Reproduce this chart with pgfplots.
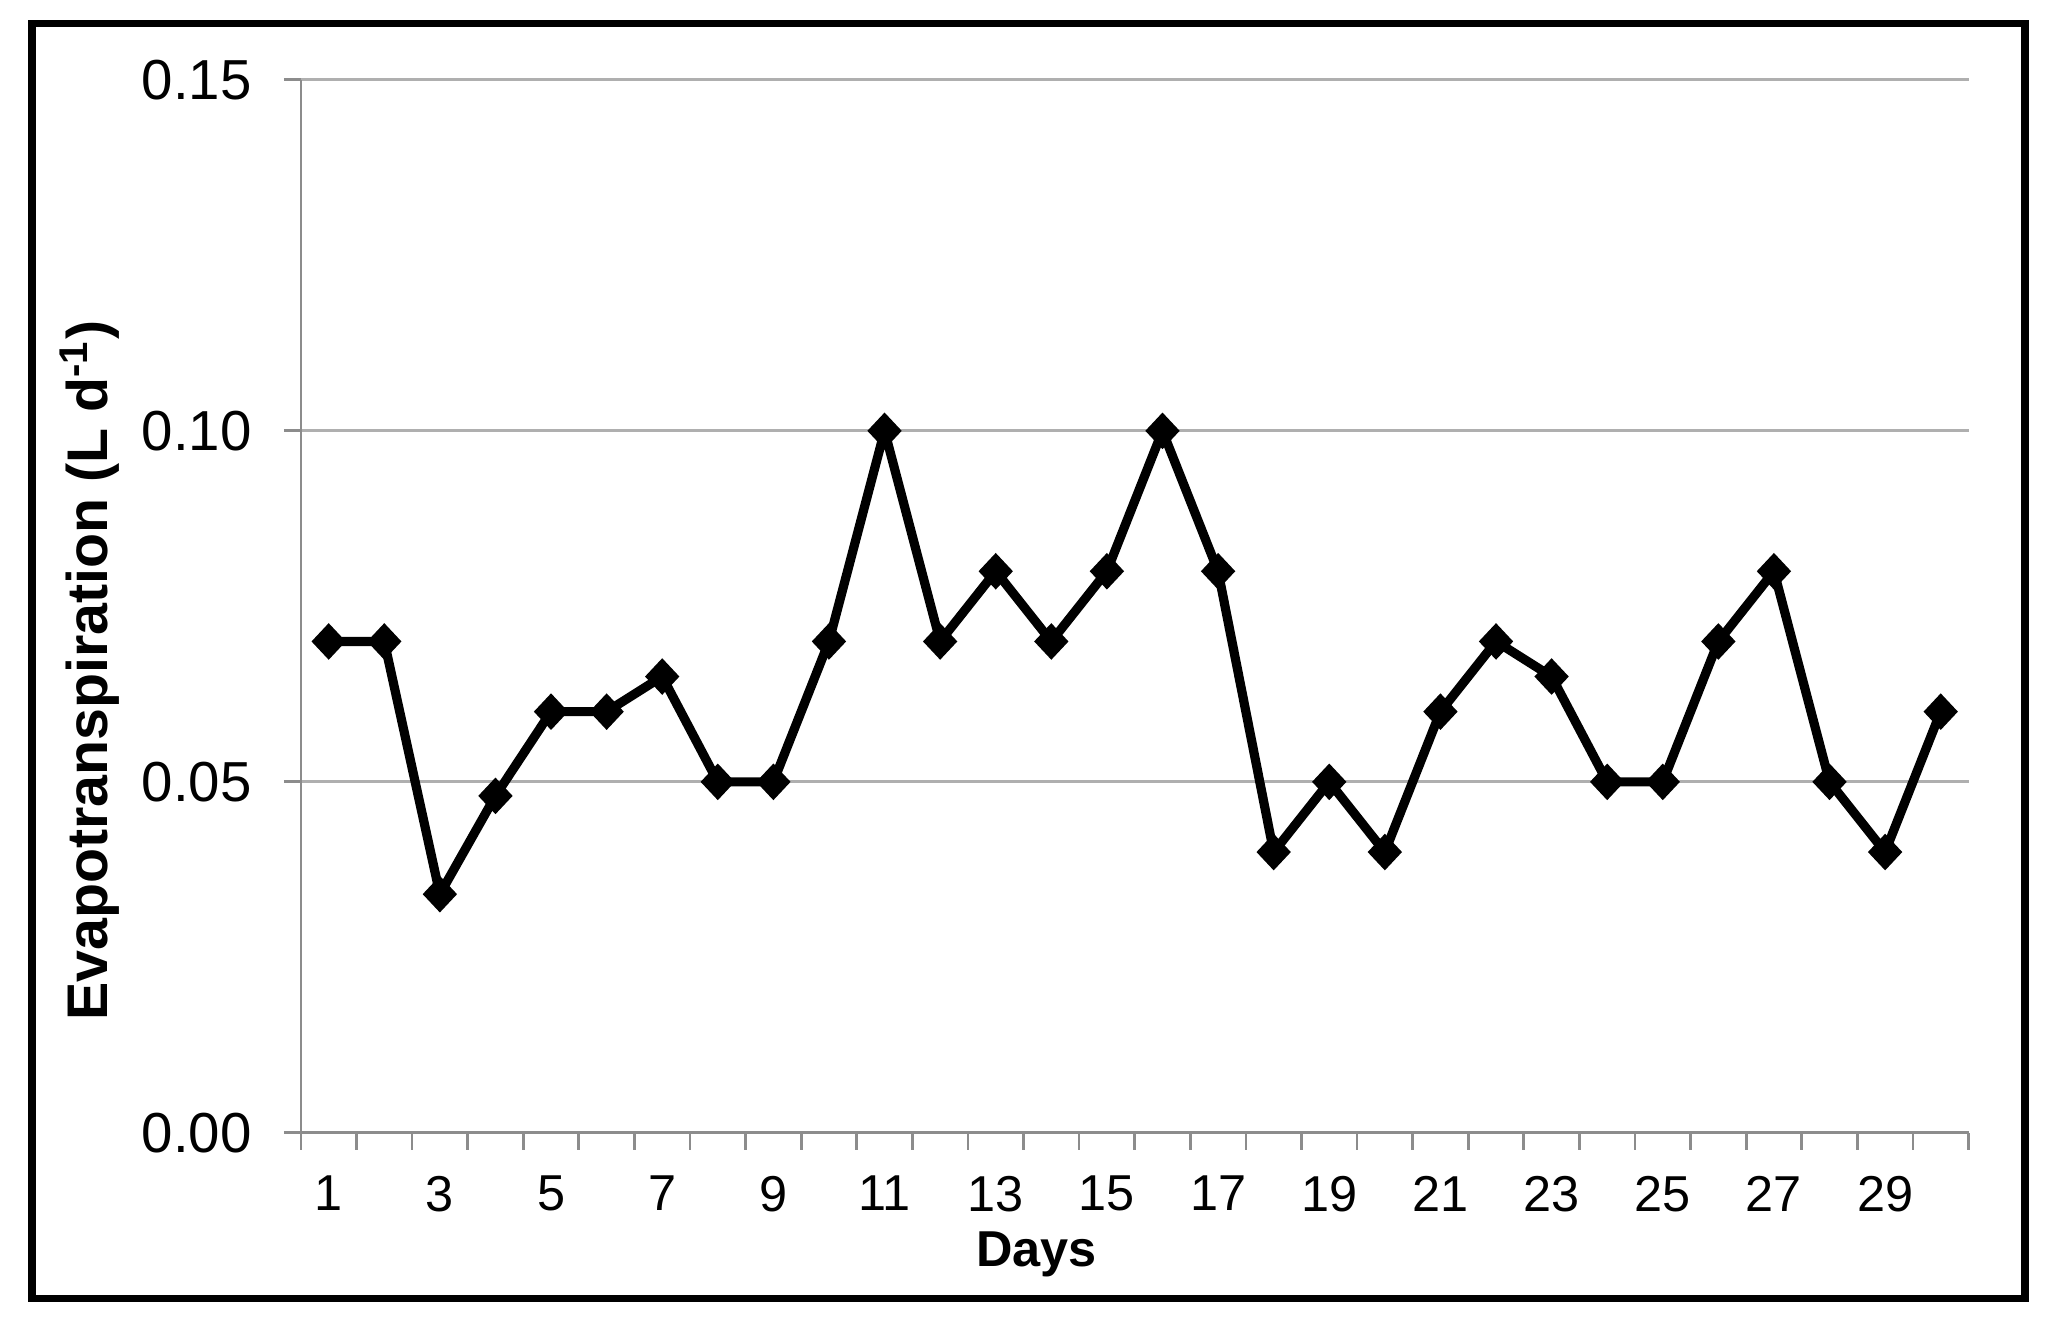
\documentclass[border=0pt]{standalone}
\usepackage{pgfplots}
\pgfplotsset{compat=1.18}
\usepackage{fontspec}
\setmainfont{Liberation Sans}
\definecolor{gridc}{RGB}{175,175,175}
\definecolor{axc}{RGB}{140,140,140}
\begin{document}
\begin{tikzpicture}
\path[use as bounding box] (0,0) rectangle (15.68,10.153);
\draw[line width=1.6pt, black] (0.245,0.20) rectangle (15.52,9.972);
\begin{axis}[
  at={(2.306cm,1.471cm)}, anchor=south west,
  scale only axis, width=12.78cm, height=8.07cm,
  xmin=0.5, xmax=30.5, ymin=0, ymax=0.15,
  enlargelimits=false, clip=false,
  axis x line*=bottom, axis y line*=left,
  axis line style={-, draw=axc, line width=0.6pt},
  xtick={1,3,...,29},
  xticklabels={1,3,5,7,9,11,13,15,17,19,21,23,25,27,29},
  minor xtick={0.5,1.5,...,30.5},
  ytick={0,0.05,0.1,0.15},
  yticklabels={0.00,0.05,0.10,0.15},
  minor ytick={0,0.05,0.1,0.15},
  major tick length=0pt, minor tick length=0.13cm,
  tick align=outside,
  tick style={draw=axc, line width=0.6pt},
  minor tick style={draw=axc, line width=0.6pt},
  ymajorgrids, major grid style={draw=gridc, line width=0.6pt},
  xticklabel style={font=\fontsize{11}{13}\selectfont, anchor=north, inner sep=0pt, yshift=-0.322cm},
  yticklabel style={font=\fontsize{12.3}{14}\selectfont, anchor=east, inner sep=0pt, xshift=-0.37cm},
  xlabel={Days},
  xlabel style={font=\bfseries\fontsize{11}{13}\selectfont, at={(axis description cs:0.441,-0.1273)}, anchor=base},
  ylabel={Evapotranspiration (L d\textsuperscript{-1})},
  ylabel style={font=\bfseries\fontsize{12.5}{15}\selectfont, at={(axis description cs:-0.1265,0.439)}, anchor=center},
]
\addplot[black, line width=2pt, mark=diamond*, mark size=3.7pt,
  mark options={solid, fill=black, line width=0.4pt, xscale=1.25}] coordinates {
(1,0.07) (2,0.07) (3,0.034) (4,0.048) (5,0.06) (6,0.06) (7,0.065) (8,0.05) (9,0.05) (10,0.07)
(11,0.10) (12,0.07) (13,0.08) (14,0.07) (15,0.08) (16,0.10) (17,0.08) (18,0.04) (19,0.05) (20,0.04)
(21,0.06) (22,0.07) (23,0.065) (24,0.05) (25,0.05) (26,0.07) (27,0.08) (28,0.05) (29,0.04) (30,0.06)
};
\end{axis}
\end{tikzpicture}
\end{document}
